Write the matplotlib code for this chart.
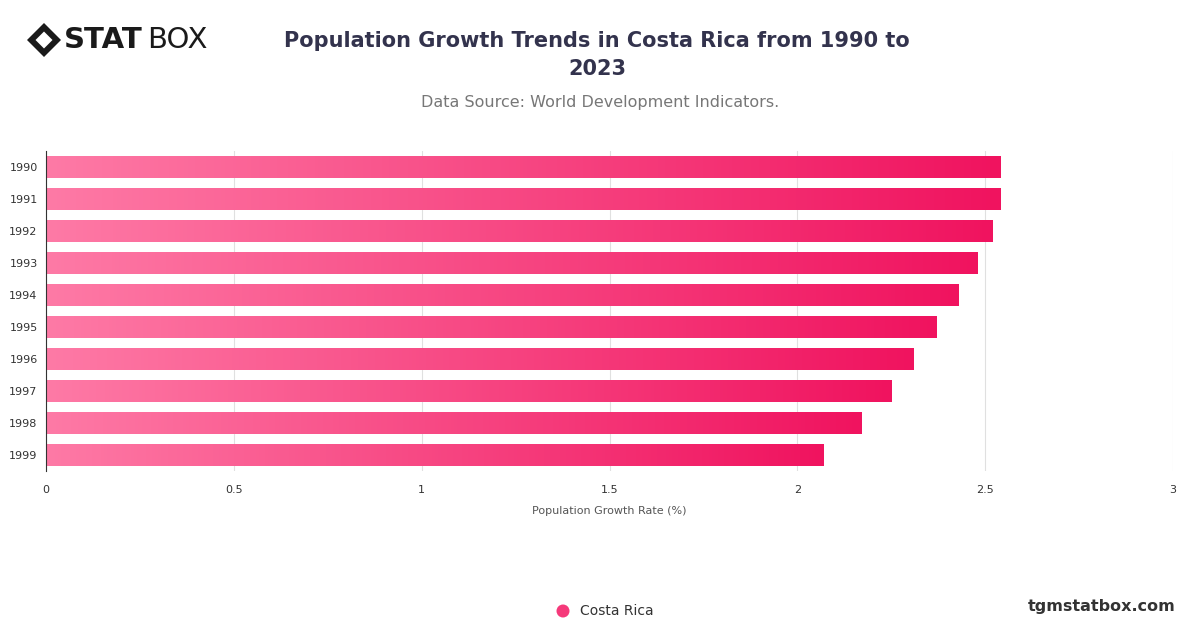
import matplotlib
matplotlib.use("Agg")
import matplotlib.pyplot as plt
import numpy as np
from matplotlib.colors import LinearSegmentedColormap
from matplotlib.patches import Polygon

years = ["1990","1991","1992","1993","1994","1995","1996","1997","1998","1999"]
values = [2.54, 2.54, 2.52, 2.48, 2.43, 2.37, 2.31, 2.25, 2.17, 2.07]
xticks = [0, 0.5, 1, 1.5, 2, 2.5, 3]
xticklabels = ["0", "0.5", "1", "1.5", "2", "2.5", "3"]

fig = plt.figure(figsize=(12, 6.28), dpi=100)
ax = fig.add_axes([46/1200, 1-471/628, (1173-46)/1200, (471-151)/628])
ax.set_xlim(0, 3)
n = len(years)
ax.set_ylim(n - 0.5, -0.5)
cmap = LinearSegmentedColormap.from_list("g", ["#fe7aa6", "#f0135f"])
grad = np.linspace(0, 1, 256).reshape(1, -1)
h = 0.68
for i, v in enumerate(values):
    ax.imshow(grad, cmap=cmap, aspect="auto", extent=(0, v, i + h/2, i - h/2), zorder=2)
ax.set_yticks(range(n))
ax.set_yticklabels(years, fontsize=8, color="#333333")
ax.set_xticks(xticks)
ax.set_xticklabels(xticklabels, fontsize=8, color="#333333")
ax.tick_params(axis="y", length=0, pad=6)
ax.tick_params(axis="x", length=0, pad=10)
ax.grid(axis="x", color="#e0e0e0", lw=0.8, zorder=0)
for s in ["top", "right", "bottom"]:
    ax.spines[s].set_visible(False)
ax.spines["left"].set_color("#333333")
ax.set_xlabel("Population Growth Rate (%)", fontsize=8, color="#555555", labelpad=8)

fig.text(597/1200, 1-55/628, "Population Growth Trends in Costa Rica from 1990 to\n2023", ha="center", va="center",
         fontsize=15, fontweight="bold", color="#33334d", linespacing=1.5)
fig.text(600/1200, 1-102/628, "Data Source: World Development Indicators.", ha="center", va="center", fontsize=11.5, color="#777777")

# logo
fig.text(64/1200, 1-40/628, "STAT", fontsize=21, fontweight="black", color="#1a1a1a", va="center", ha="left")
fig.text(147/1200, 1-40/628, "BOX", fontsize=21, color="#1a1a1a", va="center", ha="left")
cx, cy = 44/1200, 1-40/628
dx, dy = 17/1200, 17/628
fig.patches.append(Polygon([(cx-dx, cy), (cx, cy+dy), (cx+dx, cy), (cx, cy-dy)], closed=True,
                           transform=fig.transFigure, facecolor="#1a1a1a"))
fig.patches.append(Polygon([(cx-dx*0.5, cy), (cx, cy+dy*0.5), (cx+dx*0.5, cy), (cx, cy-dy*0.5)], closed=True,
                           transform=fig.transFigure, facecolor="white"))

# legend
fig.patches.append(matplotlib.patches.Ellipse((563/1200, 1-611/628), 13/1200, 13/628, transform=fig.transFigure,
                                              facecolor="#f5397a"))
fig.text(580/1200, 1-611/628, "Costa Rica", fontsize=10, color="#333333", va="center")
fig.text(1176/1200, 1-606/628, "tgmstatbox.com", fontsize=11.5, fontweight="bold", color="#333333", va="center", ha="right")

fig.savefig("out.png", dpi=100, facecolor="white")
